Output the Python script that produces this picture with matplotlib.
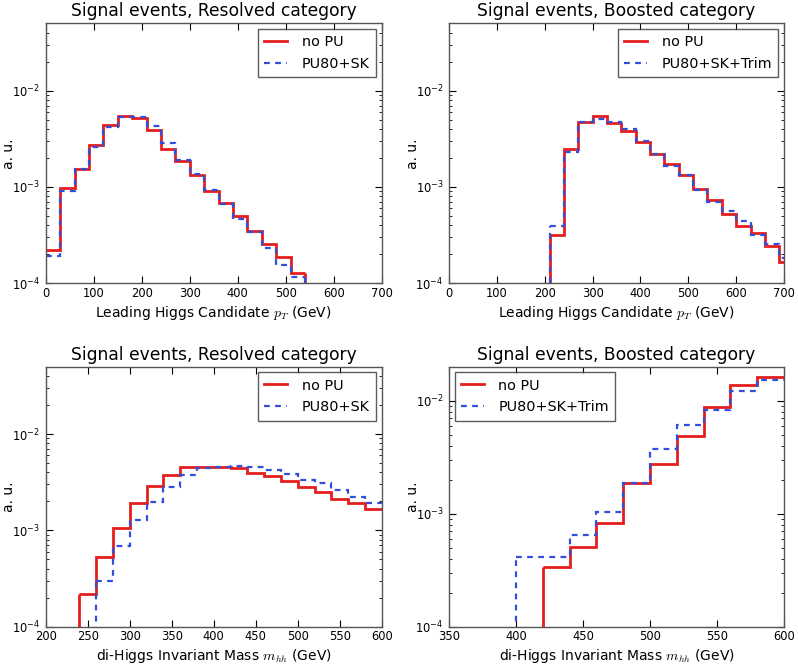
import numpy as np
import matplotlib
matplotlib.use("Agg")
import matplotlib.pyplot as plt

# ---- data ----
# Top-left: leading Higgs pT, resolved (bins of 30 GeV starting at 0)
pt_res_edges = np.arange(0, 541, 30)
pt_res_nopu = [2.2e-4, 9.8e-4, 1.55e-3, 2.75e-3, 4.45e-3, 5.5e-3, 5.2e-3, 3.9e-3, 2.5e-3,
               1.87e-3, 1.33e-3, 9.1e-4, 6.8e-4, 4.95e-4, 3.47e-4, 2.55e-4, 1.86e-4, 1.29e-4]
pt_res_pu = [1.93e-4, 9.0e-4, 1.55e-3, 2.6e-3, 4.2e-3, 5.3e-3, 5.3e-3, 4.25e-3, 2.85e-3,
             1.9e-3, 1.37e-3, 9.4e-4, 6.7e-4, 4.6e-4, 3.4e-4, 2.3e-4, 1.54e-4, 1.15e-4]

# Top-right: leading Higgs pT, boosted (bins of 30 GeV starting at 210)
pt_boo_edges = np.arange(210, 721, 30)
pt_boo_nopu = [3.2e-4, 2.5e-3, 4.75e-3, 5.4e-3, 4.6e-3, 3.8e-3, 2.95e-3, 2.2e-3, 1.75e-3,
               1.34e-3, 9.6e-4, 7.4e-4, 5.2e-4, 3.9e-4, 3.3e-4, 2.43e-4, 1.68e-4]
pt_boo_pu = [3.9e-4, 2.33e-3, 4.7e-3, 5.1e-3, 4.75e-3, 3.95e-3, 3.0e-3, 2.22e-3, 1.66e-3,
             1.33e-3, 9.4e-4, 7.0e-4, 5.6e-4, 4.45e-4, 3.2e-4, 2.58e-4, 1.84e-4]

# Bottom-left: di-Higgs mass, resolved (bins of 20 GeV)
m_res_nopu_edges = np.arange(240, 601, 20)
m_res_nopu = [2.19e-4, 5.35e-4, 1.05e-3, 1.92e-3, 2.92e-3, 3.78e-3, 4.6e-3, 4.6e-3, 4.55e-3,
              4.4e-3, 3.96e-3, 3.64e-3, 3.23e-3, 2.82e-3, 2.5e-3, 2.13e-3, 1.92e-3, 1.65e-3]
m_res_pu_edges = np.arange(260, 601, 20)
m_res_pu = [3.0e-4, 6.9e-4, 1.27e-3, 1.99e-3, 2.79e-3, 3.72e-3, 4.4e-3, 4.6e-3, 4.7e-3,
            4.55e-3, 4.2e-3, 3.85e-3, 3.3e-3, 3.07e-3, 2.6e-3, 2.23e-3, 1.92e-3]

# Bottom-right: di-Higgs mass, boosted (bins of 20 GeV)
m_boo_nopu_edges = np.arange(420, 601, 20)
m_boo_nopu = [3.4e-4, 5.1e-4, 8.35e-4, 1.86e-3, 2.75e-3, 4.83e-3, 8.8e-3, 1.38e-2, 1.62e-2]
m_boo_pu_edges = np.arange(400, 601, 20)
m_boo_pu = [4.1e-4, 4.1e-4, 6.5e-4, 1.03e-3, 1.86e-3, 3.73e-3, 6.1e-3, 8.3e-3, 1.22e-2, 1.51e-2]

titles = ["Signal events, Resolved category", "Signal events, Boosted category",
          "Signal events, Resolved category", "Signal events, Boosted category"]
xlabels = [r"Leading Higgs Candidate $p_T$ (GeV)", r"Leading Higgs Candidate $p_T$ (GeV)",
           r"di-Higgs Invariant Mass $m_{hh}$ (GeV)", r"di-Higgs Invariant Mass $m_{hh}$ (GeV)"]
labels_nopu = "no PU"
labels_pu = ["PU80+SK", "PU80+SK+Trim", "PU80+SK", "PU80+SK+Trim"]
xlims = [(0, 700), (0, 700), (200, 600), (350, 600)]
ylims = [(1e-4, 0.05), (1e-4, 0.05), (1e-4, 0.05), (1e-4, 0.02)]
legend_locs = ["upper right", "upper right", "upper right", "upper left"]

panels = [
    (pt_res_edges, pt_res_nopu, pt_res_edges, pt_res_pu),
    (pt_boo_edges, pt_boo_nopu, pt_boo_edges, pt_boo_pu),
    (m_res_nopu_edges, m_res_nopu, m_res_pu_edges, m_res_pu),
    (m_boo_nopu_edges, m_boo_nopu, m_boo_pu_edges, m_boo_pu),
]

RED = "#e41e1e"
BLUE = "#2f4fdc"
DASH = (0, (2.6, 2.4))

plt.rcParams["font.family"] = ["DejaVu Sans"]
plt.rcParams["mathtext.fontset"] = "cm"

fig = plt.figure(figsize=(7.98, 6.65), dpi=100)
fig.patch.set_facecolor("white")

W, H = 798.0, 665.0
positions = [
    (45.7 / W, 1 - 283.3 / H, 336 / W, 260 / H),
    (449.0 / W, 1 - 283.3 / H, 335 / W, 260 / H),
    (45.7 / W, 1 - 626.7 / H, 336 / W, 260 / H),
    (449.0 / W, 1 - 626.7 / H, 335 / W, 260 / H),
]


def draw_hist(ax, edges, vals, xlim, ylim, color, lw, ls, label):
    ax.stairs(vals, edges, baseline=None, color=color, lw=lw, ls=ls, label=label)
    # vertical drops at the ends of the histogram, only inside the plot range
    if edges[0] > xlim[0]:
        ax.vlines(edges[0], ylim[0] * 1e-3, vals[0], color=color, lw=lw, linestyles=[ls])
    if edges[-1] < xlim[1]:
        ax.vlines(edges[-1], ylim[0] * 1e-3, vals[-1], color=color, lw=lw, linestyles=[ls])


for i, pos in enumerate(positions):
    ax = fig.add_axes(pos)
    e1, v1, e2, v2 = panels[i]
    ax.set_yscale("log")
    ax.set_xlim(*xlims[i])
    draw_hist(ax, e1, v1, xlims[i], ylims[i], RED, 2.0, "-", labels_nopu)
    draw_hist(ax, e2, v2, xlims[i], ylims[i], BLUE, 1.6, DASH, labels_pu[i])
    ax.set_ylim(*ylims[i])
    ax.set_title(titles[i], fontsize=12.3, pad=5)
    ax.set_xlabel(xlabels[i], fontsize=10, labelpad=3)
    ax.set_ylabel("a. u.", fontsize=10)
    ax.yaxis.set_label_coords(-0.088, 0.5)
    ax.tick_params(which="both", direction="in", top=True, right=True, labelsize=8.3)
    ax.tick_params(which="major", length=5, width=0.8)
    ax.tick_params(which="minor", length=2.5, width=0.6)
    ax.tick_params(axis="x", which="major", pad=2.5)
    ax.tick_params(axis="y", which="major", pad=4)
    for sp in ax.spines.values():
        sp.set_color("#555555")
        sp.set_linewidth(1.0)
    leg = ax.legend(loc=legend_locs[i], fontsize=10.4, fancybox=False, frameon=True,
                    handlelength=1.6, borderpad=0.42, labelspacing=0.55, handletextpad=1.0,
                    borderaxespad=0.4)
    leg.get_frame().set_edgecolor("#333333")
    leg.get_frame().set_linewidth(1.0)

fig.savefig("out.png", dpi=100, facecolor="white")
